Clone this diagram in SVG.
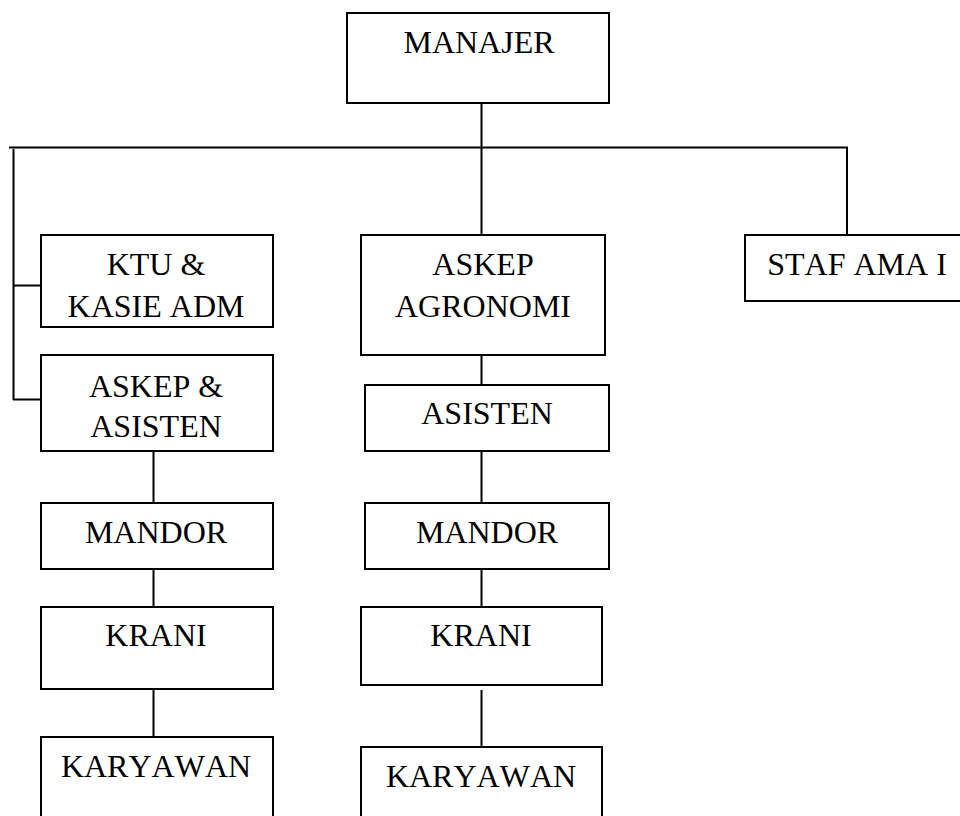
<svg xmlns="http://www.w3.org/2000/svg" width="960" height="816" viewBox="0 0 960 816">
<style>
rect{fill:#fff;stroke:#000;stroke-width:2}
text{font-family:'Liberation Serif','Times New Roman',serif;font-size:32px;font-kerning:none;fill:#000;text-anchor:middle}
#connectors line{stroke:#000;stroke-width:2}
</style>
<rect x="0" y="0" width="960" height="816" style="stroke:none"/>
<g id="connectors">
<line x1="481.5" y1="103" x2="481.5" y2="235"/>
<line x1="9" y1="147.5" x2="848" y2="147.5"/>
<line x1="847" y1="147" x2="847" y2="235"/>
<line x1="13.5" y1="149" x2="13.5" y2="400"/>
<line x1="13" y1="285.5" x2="41" y2="285.5"/>
<line x1="13" y1="399.5" x2="41" y2="399.5"/>
<line x1="153.5" y1="451" x2="153.5" y2="503"/>
<line x1="153.5" y1="569" x2="153.5" y2="607"/>
<line x1="153.5" y1="689" x2="153.5" y2="737"/>
<line x1="481.5" y1="355" x2="481.5" y2="385"/>
<line x1="481.5" y1="451" x2="481.5" y2="503"/>
<line x1="481.5" y1="569" x2="481.5" y2="607"/>
<line x1="481.5" y1="690" x2="481.5" y2="747"/>
</g>
<g id="manajer"><rect x="347" y="13" width="262" height="90"/><text x="479" y="53">MANAJER</text></g>
<g id="staf"><rect x="745" y="235" width="230" height="66"/><text x="857" y="275">STAF AMA I</text></g>
<g id="ktu"><rect x="41" y="235" width="232" height="92"/><text x="156" y="275">KTU &amp;</text><text x="156" y="317">KASIE ADM</text></g>
<g id="askep-asisten"><rect x="41" y="355" width="232" height="96"/><text x="156" y="397">ASKEP &amp;</text><text x="156" y="437">ASISTEN</text></g>
<g id="mandor-1"><rect x="41" y="503" width="232" height="66"/><text x="156" y="543">MANDOR</text></g>
<g id="krani-1"><rect x="41" y="607" width="232" height="82"/><text x="156" y="646">KRANI</text></g>
<g id="karyawan-1"><rect x="41" y="737" width="232" height="100"/><text x="156" y="777">KARYAWAN</text></g>
<g id="askep-agronomi"><rect x="361" y="235" width="244" height="120"/><text x="483" y="275">ASKEP</text><text x="483" y="317">AGRONOMI</text></g>
<g id="asisten"><rect x="365" y="385" width="244" height="66"/><text x="487" y="424">ASISTEN</text></g>
<g id="mandor-2"><rect x="365" y="503" width="244" height="66"/><text x="487" y="543">MANDOR</text></g>
<g id="krani-2"><rect x="361" y="607" width="241" height="78"/><text x="481" y="646">KRANI</text></g>
<g id="karyawan-2"><rect x="361" y="747" width="241" height="100"/><text x="481" y="787">KARYAWAN</text></g>
</svg>
